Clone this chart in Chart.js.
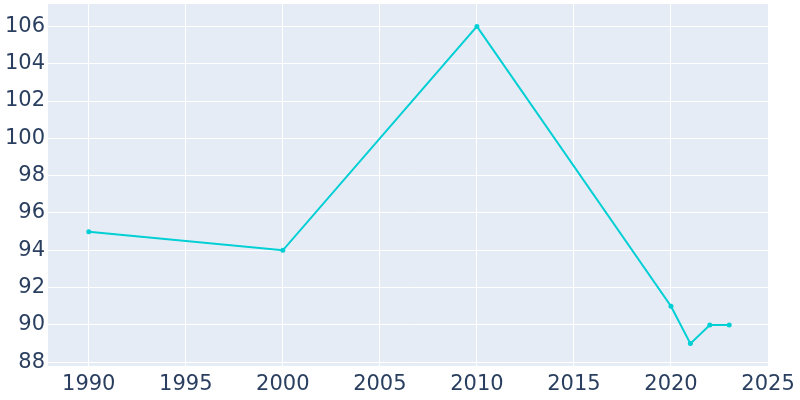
<!DOCTYPE html>
<html>
<head>
<meta charset="utf-8">
<script src="https://cdn.jsdelivr.net/npm/chart.js@4/dist/chart.umd.min.js"></script>
<style>
  html, body { margin: 0; padding: 0; background: #fff; }
  #chart { display: block; }
</style>
</head>
<body>
<canvas id="chart" width="800" height="400"></canvas>
<script>
// Population by year
const years = [1990, 2000, 2010, 2020, 2021, 2022, 2023];
const population = [95, 94, 106, 91, 89, 90, 90];

const xTicks = [1990, 1995, 2000, 2005, 2010, 2015, 2020, 2025];
const yTicks = [88, 90, 92, 94, 96, 98, 100, 102, 104, 106];

const tickColor = '#2a3f5f';
const lineColor = '#00cfd4';

// plot background like plotly
const plotBg = {
    id: 'plotBg',
    beforeDraw(chart) {
        const a = chart.chartArea;
        const ctx = chart.ctx;
        ctx.save();
        ctx.fillStyle = '#e5ecf6';
        ctx.fillRect(a.left, a.top, a.right - a.left, a.bottom - a.top);
        ctx.restore();
    }
};

function noPad(s) {
    s.paddingTop = 0;
    s.paddingBottom = 0;
    s.paddingLeft = 0;
    s.paddingRight = 0;
}

const ctx = document.getElementById('chart').getContext('2d');
new Chart(ctx, {
    type: 'line',
    data: {
        datasets: [{
            data: years.map((y, i) => ({ x: y, y: population[i] })),
            borderColor: lineColor,
            backgroundColor: lineColor,
            borderWidth: 2,
            pointRadius: 2.5,
            pointBorderWidth: 0,
            tension: 0
        }]
    },
    options: {
        responsive: false,
        animation: false,
        layout: { padding: { top: 3, right: 31, left: 0, bottom: 0 } },
        plugins: {
            legend: { display: false },
            tooltip: { enabled: false }
        },
        scales: {
            x: {
                type: 'linear',
                min: 1987.9,
                max: 2025.05,
                afterBuildTicks: s => { s.ticks = xTicks.map(v => ({ value: v })); },
                afterFit: s => { s.height = 34; noPad(s); },
                grid: { color: '#ffffff', lineWidth: 1, drawTicks: false },
                border: { display: false },
                ticks: {
                    color: tickColor,
                    font: { family: 'DejaVu Sans', size: 21 },
                    padding: 6,
                    maxRotation: 0,
                    autoSkip: false,
                    callback: v => String(v)
                }
            },
            y: {
                min: 87.8,
                max: 107.2,
                afterBuildTicks: s => { s.ticks = yTicks.map(v => ({ value: v })); },
                afterFit: s => { s.width = 48; noPad(s); },
                grid: { color: '#ffffff', lineWidth: 1, drawTicks: false },
                border: { display: false },
                ticks: {
                    color: tickColor,
                    font: { family: 'DejaVu Sans', size: 21 },
                    padding: 3,
                    autoSkip: false,
                    callback: v => String(v)
                }
            }
        }
    },
    plugins: [plotBg]
});
</script>
</body>
</html>
